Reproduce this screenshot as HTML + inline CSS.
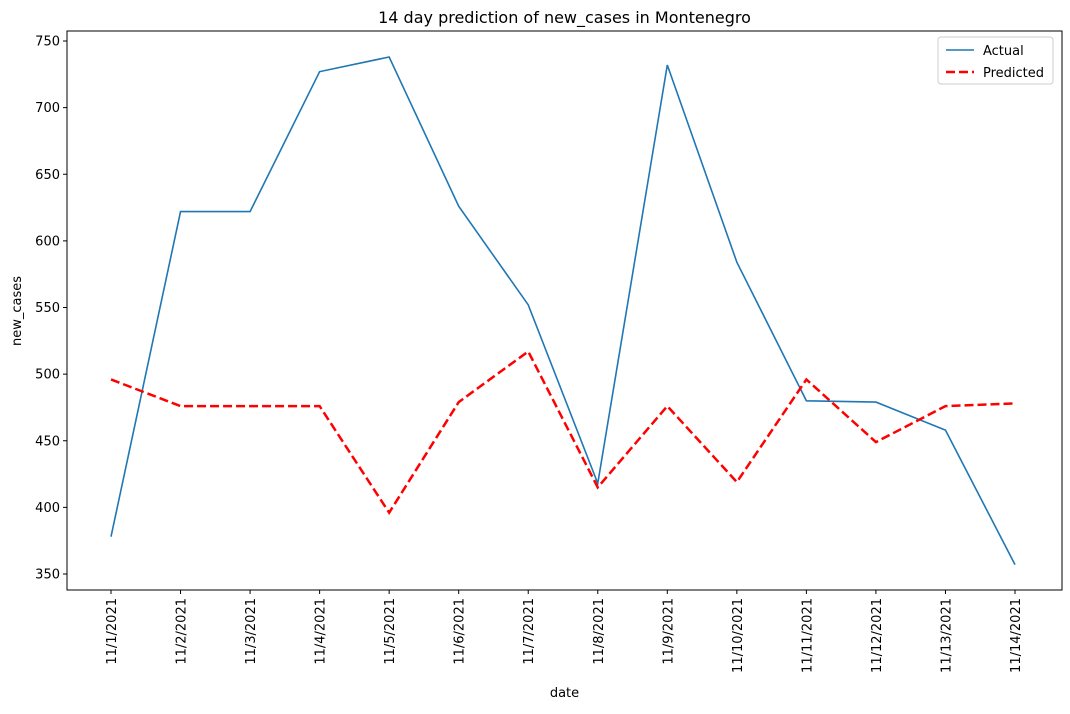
<!DOCTYPE html>
<html><head><meta charset="utf-8"><style>
body{margin:0;background:#fff;font-family:"Liberation Sans","DejaVu Sans",sans-serif;}
svg text{font-family:"DejaVu Sans","Liberation Sans",sans-serif;fill:#000;}
</style></head><body>
<svg id="chart" width="1070" height="709" xmlns="http://www.w3.org/2000/svg"></svg>
<script>
const dates=["11/1/2021","11/2/2021","11/3/2021","11/4/2021","11/5/2021","11/6/2021","11/7/2021","11/8/2021","11/9/2021","11/10/2021","11/11/2021","11/12/2021","11/13/2021","11/14/2021"];
const actual=[378,622,622,727,738,626,552,418,732,584,480,479,458,357];
const predicted=[496,476,476,476,396,479,517,415,476,419,496,449,476,478];
const yTicks=[350,400,450,500,550,600,650,700,750];

const svg=document.getElementById('chart');
const NS="http://www.w3.org/2000/svg";
const L=67,R=1062,T=31,B=590;
const x=i=>111+i*(1015-111)/(dates.length-1);
const y=v=>574-(v-350)*(574-41)/400;
function mk(tag,attrs,parent){const e=document.createElementNS(NS,tag);for(const k in attrs)e.setAttribute(k,attrs[k]);(parent||svg).appendChild(e);return e;}

const frame=mk('rect',{x:L,y:T,width:R-L,height:B-T,fill:'none',stroke:'#000','stroke-width':1});



yTicks.forEach(v=>{
  const t=mk('line',{x1:L-4,x2:L,y1:y(v),y2:y(v),stroke:'#000'});
  
  
  const lb=mk('text',{x:L-7,y:y(v)+4.5,'text-anchor':'end','font-size':13});
  lb.textContent=v;
  
  
});
dates.forEach((d,i)=>{
  const t=mk('line',{x1:x(i),x2:x(i),y1:B,y2:B+4,stroke:'#000'});
  
  
  const lb=mk('text',{x:0,y:0,'text-anchor':'end','font-size':13,transform:`translate(${x(i)+5},${B+8}) rotate(-90)`});
  lb.textContent=d;
  
  
});

const la=mk('polyline',{points:actual.map((v,i)=>x(i)+','+y(v)).join(' '),fill:'none',stroke:'#1f77b4','stroke-width':1.6});


const lp=mk('polyline',{points:predicted.map((v,i)=>x(i)+','+y(v)).join(' '),fill:'none',stroke:'#ff0000','stroke-width':2.5,'stroke-dasharray':'9,4'});



const title=mk('text',{x:(L+R)/2,y:23,'text-anchor':'middle','font-size':16});
title.textContent='14 day prediction of new_cases in Montenegro';


const xt=mk('text',{x:(L+R)/2,y:697,'text-anchor':'middle','font-size':13});
xt.textContent='date';


const yt=mk('text',{x:0,y:0,'text-anchor':'middle','font-size':13,transform:'translate(21,311) rotate(-90)'});
yt.textContent='new_cases';



const lg=mk('g',{});


mk('rect',{x:938,y:37,width:115,height:47,rx:3,fill:'#fff',stroke:'#ccc'},lg);
mk('line',{x1:946,x2:974,y1:50,y2:50,stroke:'#1f77b4','stroke-width':1.6},lg);
mk('line',{x1:946,x2:974,y1:72,y2:72,stroke:'#ff0000','stroke-width':2.5,'stroke-dasharray':'9,4'},lg);
const e1=mk('text',{x:983,y:55,'font-size':13},lg);e1.textContent='Actual';


const e2=mk('text',{x:983,y:77,'font-size':13},lg);e2.textContent='Predicted';


</script>
</body></html>
